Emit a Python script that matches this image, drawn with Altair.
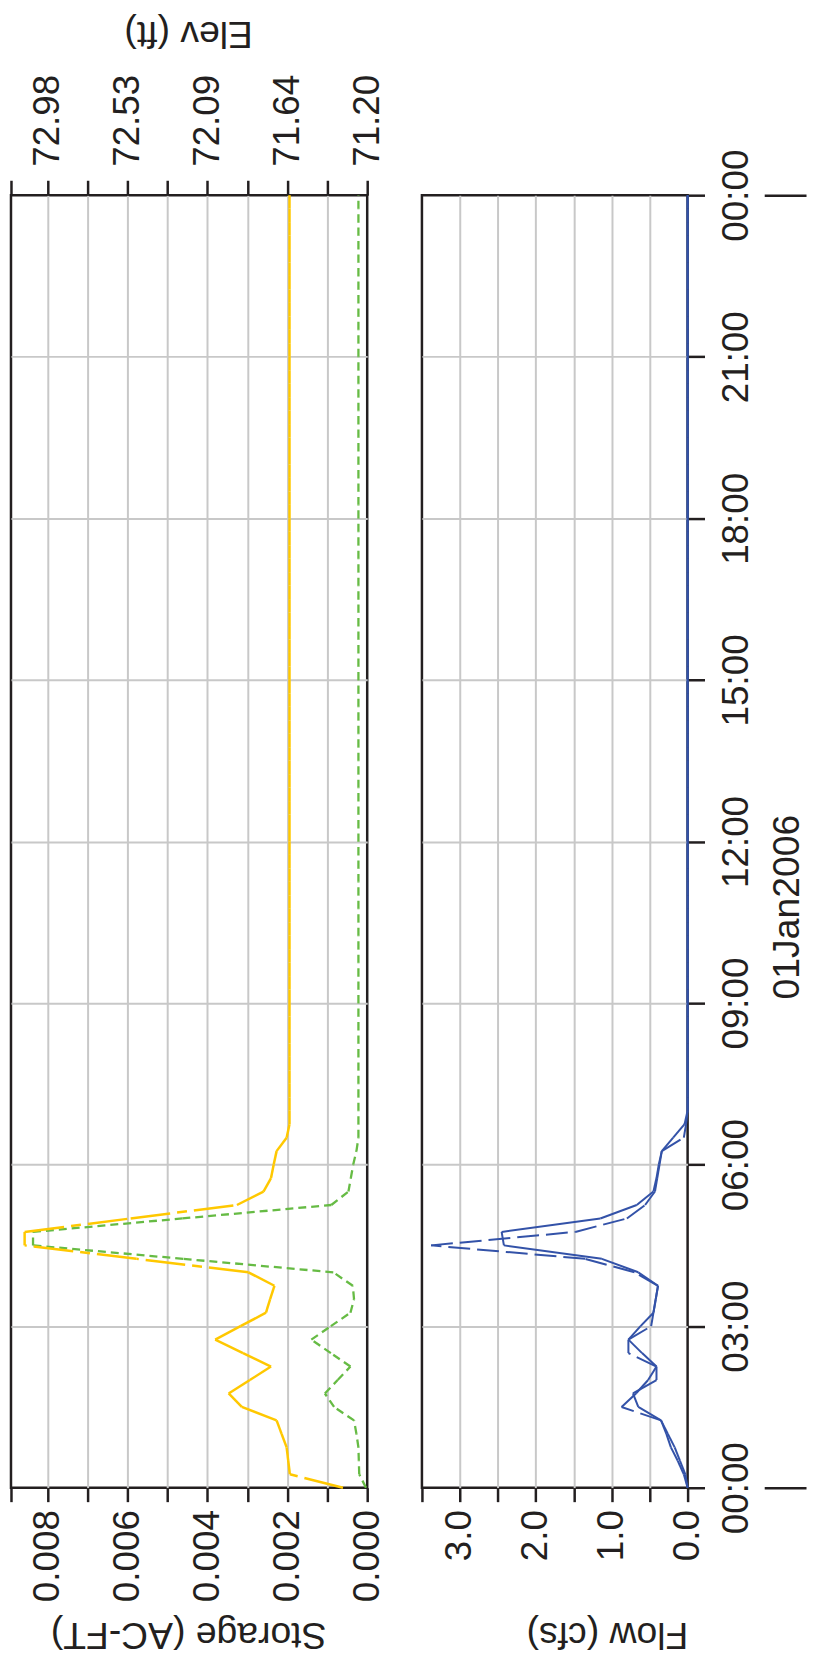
import altair as alt
import pandas as pd

# ---------------- data (15-minute steps, 01Jan2006 00:00 .. 02Jan2006 00:00) ----------------
STEP_H = [i * 0.25 for i in range(97)]

# Elevation (ft) - yellow, top axis
ELEV_V = [71.335, 71.631, 71.640, 71.649, 71.677, 71.705, 71.899, 71.972, 71.854, 71.736, 71.892, 72.047,
          71.906, 71.764, 71.741, 71.717, 71.862, 72.486, 73.109, 73.109, 72.518, 71.926, 71.778, 71.736,
          71.721, 71.705, 71.649, 71.633,
          71.633, 71.633, 71.633, 71.633, 71.633, 71.633, 71.633, 71.633, 71.633, 71.633, 71.633, 71.633,
          71.633, 71.633, 71.633, 71.633, 71.633, 71.633, 71.633, 71.633, 71.633, 71.633, 71.633, 71.633,
          71.633, 71.633, 71.633, 71.633, 71.633, 71.633, 71.633, 71.633, 71.633, 71.633, 71.633, 71.633,
          71.633, 71.633, 71.633, 71.633, 71.633, 71.633, 71.633, 71.633, 71.633, 71.633, 71.633, 71.633,
          71.633, 71.633, 71.633, 71.633, 71.633, 71.633, 71.633, 71.633, 71.633, 71.633, 71.633, 71.633,
          71.633, 71.633, 71.633, 71.633, 71.633, 71.633, 71.633, 71.633, 71.633]

# Storage (AC-FT) - green, bottom axis
STOR_V = [0.00003, 0.0002, 0.00021, 0.00022, 0.00027, 0.00033, 0.00083, 0.00106, 0.00074, 0.00042, 0.00091, 0.0014,
          0.00091, 0.00042, 0.00033, 0.00036, 0.00085, 0.00461, 0.00837, 0.00837, 0.00463, 0.0009, 0.00047, 0.00041,
          0.00035, 0.00027, 0.00022,
          0.00022, 0.00022, 0.00022, 0.00022, 0.00022, 0.00022, 0.00022, 0.00022, 0.00022, 0.00022, 0.00022, 0.00022,
          0.00022, 0.00022, 0.00022, 0.00022, 0.00022, 0.00022, 0.00022, 0.00022, 0.00022, 0.00022, 0.00022, 0.00022,
          0.00022, 0.00022, 0.00022, 0.00022, 0.00022, 0.00022, 0.00022, 0.00022, 0.00022, 0.00022, 0.00022, 0.00022,
          0.00022, 0.00022, 0.00022, 0.00022, 0.00022, 0.00022, 0.00022, 0.00022, 0.00022, 0.00022, 0.00022, 0.00022,
          0.00022, 0.00022, 0.00022, 0.00022, 0.00022, 0.00022, 0.00022, 0.00022, 0.00022, 0.00022, 0.00022, 0.00022,
          0.00022, 0.00022, 0.00022, 0.00022, 0.00022, 0.00022, 0.00022, 0.00022, 0.00022, 0.00022]

# Flow (cfs): outflow (solid) and inflow (dashed)
OUT_V = [0.0, 0.03, 0.10, 0.17, 0.26, 0.35, 0.65, 0.72, 0.41, 0.41, 0.60, 0.78,
         0.62, 0.45, 0.42, 0.39, 0.65, 1.13, 2.42, 2.45, 1.15, 0.67, 0.45, 0.41,
         0.38, 0.34, 0.19, 0.04, 0.0,
         0.0, 0.0, 0.0, 0.0, 0.0, 0.0, 0.0, 0.0, 0.0, 0.0, 0.0, 0.0,
         0.0, 0.0, 0.0, 0.0, 0.0, 0.0, 0.0, 0.0, 0.0, 0.0, 0.0, 0.0,
         0.0, 0.0, 0.0, 0.0, 0.0, 0.0, 0.0, 0.0, 0.0, 0.0, 0.0, 0.0,
         0.0, 0.0, 0.0, 0.0, 0.0, 0.0, 0.0, 0.0, 0.0, 0.0, 0.0, 0.0,
         0.0, 0.0, 0.0, 0.0, 0.0, 0.0, 0.0, 0.0, 0.0, 0.0, 0.0, 0.0,
         0.0, 0.0, 0.0, 0.0, 0.0, 0.0, 0.0, 0.0]
IN_V = [0.0, 0.05, 0.13, 0.22, 0.28, 0.35, 0.87, 0.68, 0.52, 0.41, 0.78, 0.78,
        0.48, 0.45, 0.42, 0.39, 0.70, 1.35, 3.38, 1.48, 0.80, 0.56, 0.43, 0.40,
        0.37, 0.34, 0.05, 0.02, 0.0,
        0.0, 0.0, 0.0, 0.0, 0.0, 0.0, 0.0, 0.0, 0.0, 0.0, 0.0, 0.0,
        0.0, 0.0, 0.0, 0.0, 0.0, 0.0, 0.0, 0.0, 0.0, 0.0, 0.0, 0.0,
        0.0, 0.0, 0.0, 0.0, 0.0, 0.0, 0.0, 0.0, 0.0, 0.0, 0.0, 0.0,
        0.0, 0.0, 0.0, 0.0, 0.0, 0.0, 0.0, 0.0, 0.0, 0.0, 0.0, 0.0,
        0.0, 0.0, 0.0, 0.0, 0.0, 0.0, 0.0, 0.0, 0.0, 0.0, 0.0, 0.0,
        0.0, 0.0, 0.0, 0.0, 0.0, 0.0, 0.0, 0.0]

TIME_TICKS_H = [0, 3, 6, 9, 12, 15, 18, 21, 24]
DAY_BOUNDS_H = [0, 24]
DATE_LABEL = "01Jan2006"

STOR_TICKS = [0.0, 0.001, 0.002, 0.003, 0.004, 0.005, 0.006, 0.007, 0.008]
STOR_DOMAIN = [0.0, 0.008922]
ELEV_TICKS = [71.2, 71.4225, 71.645, 71.8675, 72.09, 72.3125, 72.535, 72.7575, 72.98]
ELEV_LABELS = ["71.20", "", "71.64", "", "72.09", "", "72.53", "", "72.98", ""]
ELEV_DOMAIN = [71.2, 73.185]
FLOW_TICKS = [0.0, 0.5, 1.0, 1.5, 2.0, 2.5, 3.0]
FLOW_DOMAIN = [0.0, 3.5]

for _s in (ELEV_V, STOR_V, OUT_V, IN_V):
    assert len(_s) == len(STEP_H)

# ---------------- styling ----------------
YELLOW = "#ffc800"
GREEN = "#66bb44"
BLUE = "#3352a8"
GRID = "#c8c8c8"
INK = "#231f20"
FONT = "Liberation Sans"
LABEL_SIZE = 37

BASE = pd.Timestamp("2006-01-01")


def ts(h):
    return BASE + pd.to_timedelta(h, unit="h")


def segments(vals):
    # one row per time step: the series is drawn step by step (dash pattern restarts each step)
    return pd.DataFrame({
        "t0": [ts(h) for h in STEP_H[:-1]],
        "t1": [ts(h) for h in STEP_H[1:]],
        "v0": vals[:-1],
        "v1": vals[1:],
    })


def dt(h):
    return alt.DateTime(year=2006, month=1, date=1 + h // 24, hours=h % 24)


def edge_size(test):
    # the tick at the panel edge carries no label: give it no size so it takes no room
    return {"condition": {"test": test, "value": 0}, "value": LABEL_SIZE}


TIME_VALUES = [dt(h) for h in TIME_TICKS_H]
DAY_VALUES = [dt(h) for h in DAY_BOUNDS_H]
time_scale = alt.Scale(domain=[dt(0), dt(24)], nice=False)

hide_edge_time = {"condition": {"test": "hours(datum.value) == 0", "value": "transparent"}, "value": GRID}

grid_only_y = alt.Axis(orient="right", values=TIME_VALUES, labels=False, ticks=False, domain=False, title=None,
                       grid=True, gridColor=hide_edge_time, gridWidth=2, minExtent=0, maxExtent=0)

common_axis = dict(labelAngle=270, labelOverlap=False, labelFlush=False, labelBound=False,
                   domain=False, titleAngle=180, titleBaseline="middle", titleAlign="center")

# ---------------- storage / elevation panel ----------------
elev_line = alt.Chart(segments(ELEV_V)).mark_rule(
    color=YELLOW, strokeWidth=2.5, strokeDash=[40, 7, 10, 7]
).encode(
    x=alt.X("v0:Q",
            scale=alt.Scale(domain=ELEV_DOMAIN, reverse=True, nice=False, zero=False),
            axis=alt.Axis(orient="top", values=ELEV_TICKS + [ELEV_DOMAIN[1]],
                          labelExpr=str(ELEV_LABELS) + "[round((datum.value - 71.2) / 0.2225)]",
                          labelFontSize=edge_size("datum.value > 73.1"),
                          labelAlign="left", labelBaseline="middle", tickSize=15, labelPadding=14,
                          grid=False, title="Elev (ft)", titleX=178, titleY=-164, **common_axis)),
    x2="v1",
    y=alt.Y("t0:T", scale=time_scale, axis=grid_only_y),
    y2="t1",
)

stor_line = alt.Chart(segments(STOR_V)).mark_rule(
    color=GREEN, strokeWidth=2.3, strokeDash=[8, 5]
).encode(
    x=alt.X("v0:Q",
            scale=alt.Scale(domain=STOR_DOMAIN, reverse=True, nice=False, zero=False),
            axis=alt.Axis(orient="bottom", values=STOR_TICKS + [STOR_DOMAIN[1]],
                          labelExpr="(round(datum.value * 1000) % 2 == 0 && datum.value < 0.0085) ? format(datum.value, '.3f') : ''",
                          labelFontSize=edge_size("datum.value > 0.0089"),
                          labelAlign="right", labelBaseline="middle", tickSize=14, labelPadding=8,
                          grid=True, gridWidth=2,
                          gridColor={"condition": {"test": "datum.value <= 0 || datum.value > 0.0089", "value": "transparent"}, "value": GRID},
                          title="Storage (AC-FT)", titleX=178, titleY=146, **common_axis)),
    x2="v1",
    y=alt.Y("t0:T", scale=time_scale, axis=grid_only_y),
    y2="t1",
)

storage_panel = alt.layer(stor_line, elev_line).resolve_scale(x="independent").properties(width=358, height=1299)

# ---------------- flow panel ----------------
flow_x = alt.X("v0:Q",
               scale=alt.Scale(domain=FLOW_DOMAIN, reverse=True, nice=False, zero=False),
               axis=alt.Axis(orient="bottom", values=FLOW_TICKS + [FLOW_DOMAIN[1]],
                             labelExpr="(datum.value % 1 == 0 && datum.value < 3.4) ? format(datum.value, '.1f') : ''",
                             labelFontSize=edge_size("datum.value > 3.4"),
                             labelAlign="right", labelBaseline="middle", tickSize=14, labelPadding=8,
                             grid=True, gridWidth=2,
                             gridColor={"condition": {"test": "datum.value <= 0 || datum.value >= 3.49", "value": "transparent"}, "value": GRID},
                             title="Flow (cfs)", titleX=186, titleY=146, **common_axis))
flow_y = alt.Y("t0:T", scale=time_scale,
               axis=alt.Axis(orient="right", values=TIME_VALUES, format="%H:%M", labelAngle=270,
                             labelAlign="center", labelBaseline="top", labelOverlap=False, labelFlush=False,
                             labelBound=False, tickSize=17, labelPadding=14, domain=False, title=None,
                             grid=True, gridColor=hide_edge_time, gridWidth=2))

inflow = alt.Chart(segments(IN_V)).mark_rule(color=BLUE, strokeWidth=2, strokeDash=[22, 7]).encode(
    x=flow_x, x2="v1", y=flow_y, y2="t1")
outflow = alt.Chart(segments(OUT_V)).mark_rule(color=BLUE, strokeWidth=2).encode(
    x=flow_x, x2="v1", y=flow_y, y2="t1")

date_axis = alt.Chart(pd.DataFrame({"t0": [ts(h) for h in DAY_BOUNDS_H]})).mark_point(
    opacity=0, size=1
).encode(
    y=alt.Y("t0:T", scale=time_scale,
            axis=alt.Axis(orient="right", offset=77, values=DAY_VALUES, labels=False, tickSize=42,
                          domain=False, grid=False, title=DATE_LABEL, titleAngle=270, titleX=23, titleY=715,
                          titleBaseline="middle", titleAlign="center")),
)

flow_panel = alt.layer(alt.layer(inflow, outflow), date_axis).resolve_scale(y="independent").properties(
    width=267, height=1299)

chart = alt.hconcat(storage_panel, flow_panel, spacing=55, bounds="flush").properties(
    padding={"left": 0, "top": 0, "right": 0, "bottom": 0}
).configure_view(
    stroke=INK, strokeWidth=2.5
).configure_axis(
    labelFont=FONT, labelFontSize=LABEL_SIZE, labelColor=INK,
    titleFont=FONT, titleFontSize=37.5, titleFontWeight="normal", titleColor=INK,
    tickColor=INK, tickWidth=2.5, minExtent=0,
)

chart.save("out.html", embed_options={"renderer": "svg", "actions": False})
